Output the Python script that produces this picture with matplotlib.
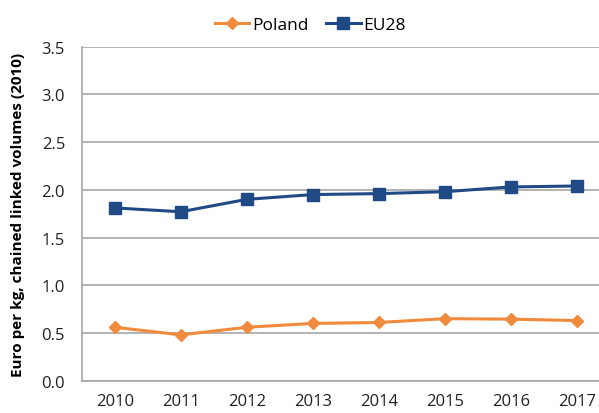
import matplotlib
matplotlib.use("Agg")
import matplotlib.pyplot as plt

years = ["2010", "2011", "2012", "2013", "2014", "2015", "2016", "2017"]
poland = [0.56, 0.48, 0.56, 0.60, 0.61, 0.65, 0.645, 0.63]
eu28 = [1.81, 1.77, 1.90, 1.95, 1.96, 1.98, 2.03, 2.04]
yticks = [0.0, 0.5, 1.0, 1.5, 2.0, 2.5, 3.0, 3.5]

plt.rcParams['font.family'] = ['Open Sans', 'DejaVu Sans']

fig = plt.figure(figsize=(5.99, 4.14), dpi=100)
ax = fig.add_axes([0.1364, 0.078, 0.882, 0.807])

x = list(range(len(years)))
ax.plot(x, poland, color="#F08A3C", lw=2.2, marker="D", ms=6.5, label="Poland", zorder=3)
ax.plot(x, eu28, color="#1F4A86", lw=2.2, marker="s", ms=8.5, label="EU28", zorder=3)

ax.set_xlim(-0.5, len(years) - 0.5)
ax.set_ylim(0, 3.5)
ax.set_yticks(yticks)
ax.set_yticklabels([f"{v:.1f}" for v in yticks])
ax.set_xticks(x)
ax.set_xticklabels(years)
ax.tick_params(length=0, labelsize=12, colors="#222222")
ax.tick_params(axis='y', pad=12)
ax.tick_params(axis='x', pad=8.5)
ax.grid(axis='y', color="#A6A6A6", lw=1.2)
ax.set_axisbelow(True)
for s in ["top", "right"]:
    ax.spines[s].set_visible(False)
for s in ["left", "bottom"]:
    ax.spines[s].set_color("#A6A6A6")
    ax.spines[s].set_linewidth(1.2)

ax.set_ylabel("Euro per kg, chained linked volumes (2010)", fontsize=11,
              fontweight="bold")
ax.yaxis.set_label_coords(-0.107, 0.5)

fig.legend(loc="center", bbox_to_anchor=(0.518, 0.937), ncol=2, frameon=False,
           fontsize=12.5, handlelength=2.0, handletextpad=0.15, columnspacing=1.0)

fig.savefig("out.png", dpi=100)
